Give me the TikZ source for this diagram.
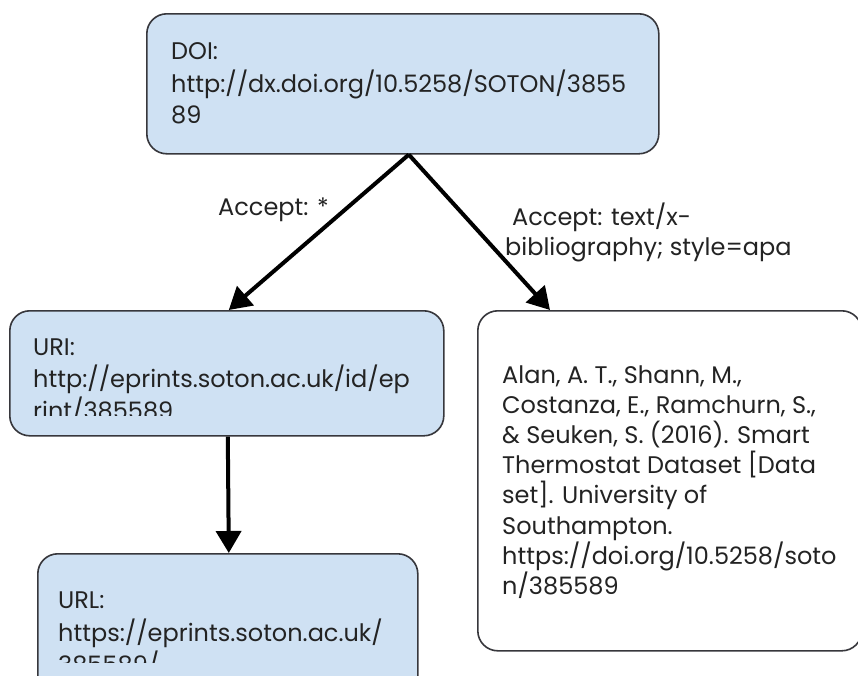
\documentclass[tikz,border=0pt]{standalone}
\usepackage{fontspec}
\setmainfont{Poppins}
\usetikzlibrary{arrows.meta}
\definecolor{boxblue}{RGB}{207,225,243}
\definecolor{edgegray}{RGB}{55,55,60}
\definecolor{ink}{RGB}{35,35,35}
\tikzset{
  boxshape/.style={draw=edgegray, line width=1.6pt, rounded corners=20pt, anchor=north west, inner sep=0pt},
  bluebox/.style={boxshape, fill=boxblue},
  whitebox/.style={boxshape, fill=white},
  txt/.style={anchor=base west, inner sep=0pt, text=ink, font=\fontsize{24}{30}\selectfont},
  arr/.style={line width=4pt, -{Triangle[length=22pt,width=25pt]}, shorten >=0pt}
}
\begin{document}
\begin{tikzpicture}[x=1pt,y=-1pt]
\useasboundingbox (0,0) rectangle (858,675);
\fill[white] (0,0) rectangle (858,675);
% boxes
\node[bluebox, minimum width=512pt, minimum height=140pt] (doi) at (146,13) {};
\node[bluebox, minimum width=434pt, minimum height=125pt] (uri) at (9,310) {};
\node[bluebox, minimum width=380pt, minimum height=160pt] (url) at (37,553) {};
\node[whitebox, minimum width=384pt, minimum height=340pt] (cit) at (477,310) {};
% texts
\node[txt] (d1) at (171,59) {DOI:};
\node[txt] (d2) at (171,92) {http://dx.doi.org/10.5258/SOTON/3855};
\node[txt] (d3) at (171,123) {89};
\begin{scope}
\clip (0,300) rectangle (450,415);
\node[txt] (u1) at (33,355) {URI:};
\node[txt] (u2) at (33,387) {http://eprints.soton.ac.uk/id/ep};
\node[txt] (u3) at (33,419) {rint/385589};
\end{scope}
\begin{scope}
\clip (0,560) rectangle (450,662);
\node[txt] (l1) at (58,608) {URL:};
\node[txt] (l2) at (58,641) {https://eprints.soton.ac.uk/};
\node[txt] (l3) at (58,673) {385589/};
\end{scope}
\foreach \t [count=\i] in {{Alan, A. T., Shann, M.,},{Costanza, E., Ramchurn, S.,},{\& Seuken, S. (2016). Smart},{Thermostat Dataset [Data},{set]. University of},{Southampton.},{https://doi.org/10.5258/soto},{n/385589}}
  \node[txt] (c\i) at (502,{383+30.2*(\i-1)}) {\t};
% labels
\node[txt] (la) at (218,215) {Accept: *};
\node[txt] (lb1) at (512,225) {Accept: text/x-};
\node[txt] (lb2) at (505,255) {bibliography; style=apa};
% connectors
\coordinate (src) at ([xshift=6pt]doi.south);
\draw[arr] (src) -- ([xshift=2pt]uri.north);
\draw[arr] (src) -- ([xshift=73pt]cit.north west);
\draw[arr] ([xshift=1pt]uri.south) -- ([xshift=1pt]url.north);
\end{tikzpicture}
\end{document}
